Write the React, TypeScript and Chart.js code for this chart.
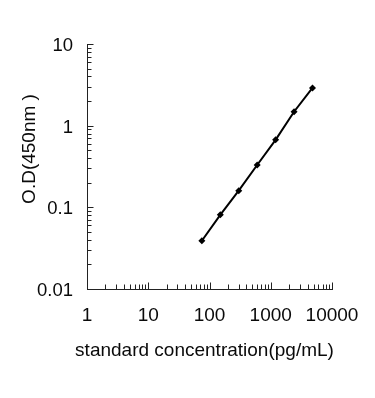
import React, { useEffect, useRef } from "react";
import { Chart, registerables } from "chart.js";

Chart.register(...registerables);

const concentrations = [75, 150, 300, 600, 1200, 2400, 4800];
const odValues = [0.039, 0.081, 0.16, 0.33, 0.67, 1.48, 2.9];
const xTickValues = [1, 10, 100, 1000, 10000];
const yTickValues = [0.01, 0.1, 1, 10];
const xTitle = "standard concentration(pg/mL)";
const yTitle = "O.D(450nm )";

const FONT = "'Liberation Sans', Arial, sans-serif";
const TEXT = "#0a0a0a";
const AXIS = "#222";

const minorTicksPlugin = {
  id: "minorTicks",
  afterDraw(chart: any) {
    const ctx = chart.ctx;
    const xs = chart.scales.x;
    const ys = chart.scales.y;
    const area = chart.chartArea;
    ctx.save();
    ctx.strokeStyle = AXIS;
    ctx.lineWidth = 1;
    ctx.beginPath();
    const x0 = Math.round(area.left) + 0.5;
    const y0 = Math.round(area.bottom) + 0.5;
    // x axis ticks (pointing up)
    for (let e = 0; e <= 4; e++) {
      for (let m = 1; m <= 9; m++) {
        const v = m * Math.pow(10, e);
        if (v > xs.max) break;
        if (v === 1) continue;
        const px = Math.round(xs.getPixelForValue(v)) + 0.5;
        const len = m === 1 ? 7 : 5;
        ctx.moveTo(px, y0);
        ctx.lineTo(px, y0 - len);
      }
    }
    // y axis ticks (pointing right)
    for (let e = -2; e <= 1; e++) {
      for (let m = 1; m <= 9; m++) {
        const v = m * Math.pow(10, e);
        if (v > ys.max + 1e-9) break;
        if (Math.abs(v - 0.01) < 1e-9) continue;
        const py = Math.round(ys.getPixelForValue(v)) + 0.5;
        const len = m === 1 ? 6 : 4;
        ctx.moveTo(x0, py);
        ctx.lineTo(x0 + len, py);
      }
    }
    ctx.stroke();

    // axis titles
    ctx.fillStyle = TEXT;
    ctx.font = `19px ${FONT}`;
    ctx.textAlign = "center";
    ctx.textBaseline = "alphabetic";
    ctx.fillText(xTitle, 204.5, 355.5);
    ctx.translate(34.5, 149);
    ctx.rotate(-Math.PI / 2);
    ctx.fillText(yTitle, 0, 0);
    ctx.restore();
  },
};

export default function App() {
  const canvasRef = useRef<HTMLCanvasElement | null>(null);

  useEffect(() => {
    document.body.style.margin = "0";
    const canvas = canvasRef.current;
    if (!canvas) return;
    const chart = new Chart(canvas, {
      type: "line",
      data: {
        datasets: [
          {
            data: concentrations.map((c, i) => ({ x: c, y: odValues[i] })),
            borderColor: "#000",
            backgroundColor: "#000",
            borderWidth: 2,
            pointStyle: "rectRot",
            pointRadius: 3.5,
            pointBorderWidth: 0,
            pointBackgroundColor: "#000",
            tension: 0,
            fill: false,
          },
        ],
      },
      options: {
        animation: false,
        responsive: false,
        devicePixelRatio: 1,
        layout: { padding: { left: 0, top: 44, right: 43, bottom: 0 } },
        plugins: {
          legend: { display: false },
          tooltip: { enabled: false },
          title: { display: false },
        },
        scales: {
          x: {
            type: "logarithmic",
            position: "bottom",
            min: 1,
            max: 10000,
            grid: { display: false, drawTicks: false },
            border: { display: true, color: AXIS, width: 1 },
            afterBuildTicks: (scale: any) => {
              scale.ticks = xTickValues.map((v) => ({ value: v, major: true }));
            },
            afterFit: (scale: any) => {
              scale.height = 109;
            },
            ticks: {
              autoSkip: false,
              maxRotation: 0,
              padding: 15,
              color: TEXT,
              font: { family: FONT, size: 19 },
              callback: (v: any) => String(v),
            },
          },
          y: {
            type: "logarithmic",
            position: "left",
            min: 0.01,
            max: 10,
            grid: { display: false, drawTicks: false },
            border: { display: true, color: AXIS, width: 1 },
            afterBuildTicks: (scale: any) => {
              scale.ticks = yTickValues.map((v) => ({ value: v, major: true }));
            },
            afterFit: (scale: any) => {
              scale.width = 87;
            },
            ticks: {
              autoSkip: false,
              padding: 14,
              labelOffset: 2,
              color: TEXT,
              font: { family: FONT, size: 18.5 },
              callback: (v: any) => String(v),
            },
          },
        },
      },
      plugins: [minorTicksPlugin],
    } as any);
    return () => chart.destroy();
  }, []);

  return (
    <div style={{ width: 375, height: 398, background: "#fff" }}>
      <canvas ref={canvasRef} width={375} height={398} />
    </div>
  );
}
